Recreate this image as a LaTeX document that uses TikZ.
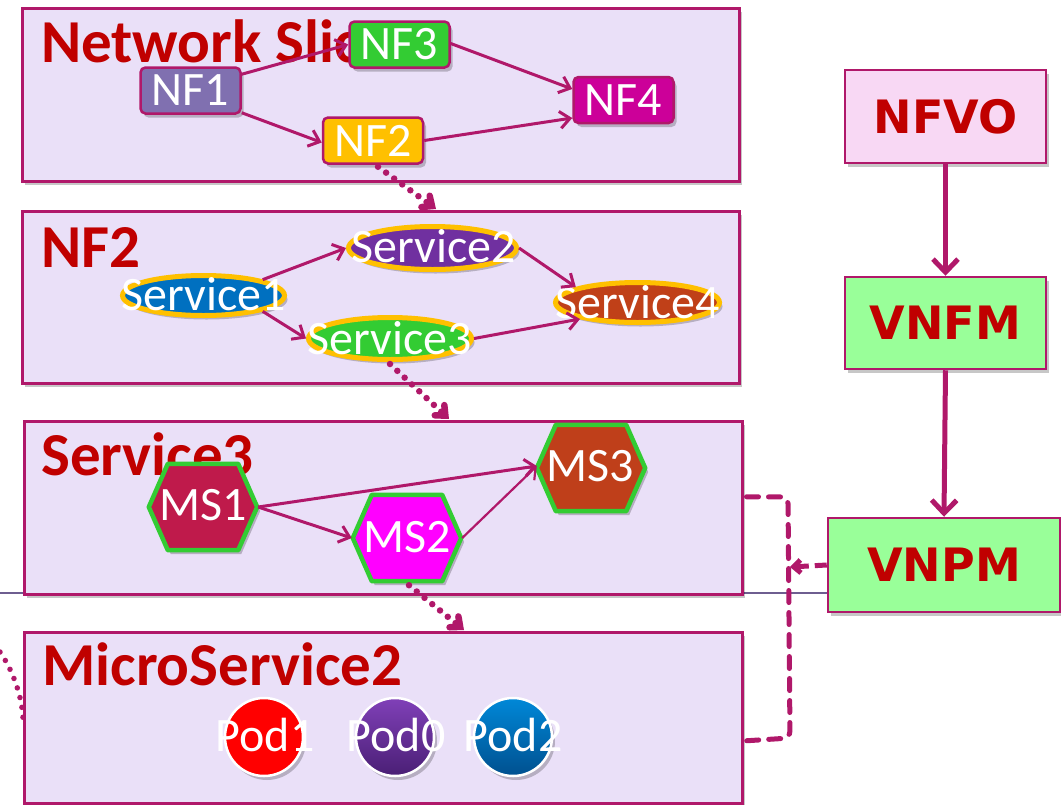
\documentclass[tikz,border=0pt]{standalone}
\usepackage{fontspec}
\setmainfont{Carlito}
\newfontfamily\dvsans{DejaVu Sans}
\usetikzlibrary{arrows.meta,shapes.geometric,shadows}
\definecolor{mag}{HTML}{B0186A}
\definecolor{panelfill}{HTML}{EAE0F8}
\definecolor{titlered}{HTML}{C00000}
\definecolor{nfa}{HTML}{8070B0}
\definecolor{nfb}{HTML}{FFC000}
\definecolor{nfc}{HTML}{33CC33}
\definecolor{nfd}{HTML}{CC0099}
\definecolor{sva}{HTML}{0070C0}
\definecolor{svb}{HTML}{7030A0}
\definecolor{svc}{HTML}{33CC33}
\definecolor{svd}{HTML}{C04018}
\definecolor{msa}{HTML}{BF1A4B}
\definecolor{msb}{HTML}{FF00FF}
\definecolor{msc}{HTML}{BF3F1A}
\definecolor{pinkfill}{HTML}{F8D8F4}
\definecolor{greenfill}{HTML}{99FF99}
\definecolor{thinline}{HTML}{6E5E90}
\definecolor{podpt}{HTML}{8040B8}
\definecolor{podpb}{HTML}{4A1F75}
\definecolor{podbt}{HTML}{0088D8}
\definecolor{podbb}{HTML}{00508F}
\begin{document}
\begin{tikzpicture}[x=1pt,y=-1pt,
  shad/.style={drop shadow={shadow xshift=3pt,shadow yshift=-4pt,fill=black,opacity=0.22}},
  panel/.style={draw=mag,line width=2.5,fill=panelfill,anchor=north west,inner sep=0,shad},
  ptitle/.style={text=titlered,font=\fontsize{61}{63}\selectfont\bfseries,anchor=base west,inner sep=0},
  wtxt/.style={text=white,font=\fontsize{48}{50}\selectfont,inner sep=0},
  nfbox/.style={draw=mag,line width=2.5,rounded corners=5pt,minimum width=100,minimum height=46,inner sep=0,text=white,font=\fontsize{48}{50}\selectfont,shad},
  svbox/.style={ellipse,draw=nfb,line width=5,inner sep=0,shad},
  hexbox/.style={minimum width=108,minimum height=86,inner sep=0},
  hexline/.style={draw=nfc,line width=4.5,line join=round,shad},
  podbox/.style={circle,draw=white,line width=2.5,minimum size=78,inner sep=0,shad},
  mgmt/.style={draw=mag,line width=2.5,inner sep=0,text=titlered,font=\dvsans\fontsize{46}{48}\selectfont\bfseries,shad},
  conn/.style={draw=mag,line width=3,-{Straight Barb[length=10pt,width=17pt]}},
  thinconn/.style={draw=mag,line width=2.2,-{Straight Barb[length=10pt,width=17pt]}},
  bigconn/.style={draw=mag,line width=5,-{Straight Barb[length=13pt,width=25pt]}},
  dotconn/.style={draw=mag,line width=6.5,line cap=round,dash pattern=on 0pt off 10pt,-{Straight Barb[length=8pt,width=14pt,line cap=round]}},
  dotline/.style={draw=mag,line width=5.5,line cap=round,dash pattern=on 0pt off 10pt},
  dashconn/.style={draw=mag,line width=5,line cap=round,dash pattern=on 12pt off 10pt,rounded corners=7pt}
]
\useasboundingbox (0,0) rectangle (1061,804);

% thin horizontal rule
\coordinate (hl0) at (0,593);
\coordinate (hl1) at (828,593);
\draw[thinline,line width=1.2] (hl0) -- (hl1);

% panels
\node[panel,minimum width=717,minimum height=173] (b1) at (21,7) {};
\node[panel,minimum width=717,minimum height=172] (b2) at (21,210) {};
\node[panel,minimum width=718,minimum height=173] (b3) at (23,420) {};
\node[panel,minimum width=718,minimum height=171] (b4) at (23,631) {};

% titles
\node[ptitle] (t1) at (41,62) {Network Slice};
\node[ptitle] (t2) at (41,267) {NF2};
\node[ptitle] (t3) at (41,475) {Service3};
\node[ptitle] (t4) at (42,685) {MicroService2};

% NF layer
\node[nfbox,fill=nfa] (nf1) at (190.5,90.5) {NF1};
\node[nfbox,fill=nfc] (nf3) at (399.5,44.5) {NF3};
\node[nfbox,fill=nfb] (nf2) at (373,140.5) {NF2};
\node[nfbox,fill=nfd] (nf4) at (623.5,100) {NF4};
\draw[conn] ([yshift=-8]nf1.north east) -- (nf3.west);
\draw[conn] ([yshift=2]nf1.south east) -- ([yshift=-2]nf2.west);
\draw[conn] ([yshift=1]nf3.east) -- ([yshift=11]nf4.west);
\draw[conn] (nf2.east) -- ([yshift=-18]nf4.west);

% Service layer
\node[svbox,fill=sva,minimum width=162,minimum height=40] (s1) at (203.5,295.5) {};
\node[svbox,fill=svb,minimum width=168,minimum height=43] (s2) at (432.5,248) {};
\node[svbox,fill=svc,minimum width=163,minimum height=42] (s3) at (390,338.5) {};
\node[svbox,fill=svd,minimum width=164,minimum height=40] (s4) at (637.5,302.5) {};
\node[wtxt] (s1t) at (204,294) {Service1};
\node[wtxt] (s2t) at (434,246) {Service2};
\node[wtxt] (s3t) at (390,338) {Service3};
\node[wtxt] (s4t) at (638,302) {Service4};
\draw[conn] (s1.15) -- (s2.west);
\draw[conn] (s1.-15) -- (s3.west);
\draw[conn] (s2.east) -- (s4.166);
\draw[conn] (s3.east) -- (s4.196);

% MicroService layer
\node[hexbox] (ms1) at (203,507) {};
\node[hexbox] (ms2) at (407,538) {};
\node[hexbox] (ms3) at (591,468) {};
\draw[hexline,fill=msa] (ms1.west) -- ([xshift=19]ms1.north west) -- ([xshift=-19]ms1.north east) -- (ms1.east) -- ([xshift=-19]ms1.south east) -- ([xshift=19]ms1.south west) -- cycle;
\draw[hexline,fill=msb] (ms2.west) -- ([xshift=19]ms2.north west) -- ([xshift=-19]ms2.north east) -- (ms2.east) -- ([xshift=-19]ms2.south east) -- ([xshift=19]ms2.south west) -- cycle;
\draw[hexline,fill=msc] (ms3.west) -- ([xshift=19]ms3.north west) -- ([xshift=-19]ms3.north east) -- (ms3.east) -- ([xshift=-19]ms3.south east) -- ([xshift=19]ms3.south west) -- cycle;
\node[wtxt] (ms1t) at (203,505) {MS1};
\node[wtxt] (ms2t) at (407,537) {MS2};
\node[wtxt] (ms3t) at (590,466) {MS3};
\draw[conn] ([xshift=1]ms1.east) -- ([yshift=2]ms3.west);
\draw[conn] ([xshift=1]ms1.east) -- ([xshift=-1]ms2.west);
\draw[thinconn] ([xshift=1]ms2.east) -- ([yshift=2]ms3.west);

% Pods
\node[podbox,fill=red] (p1) at (264,737) {};
\node[podbox,top color=podpt,bottom color=podpb] (p0) at (395,737) {};
\node[podbox,top color=podbt,bottom color=podbb] (p2) at (513,737) {};
\node[wtxt] (p1t) at (265,735) {Pod1};
\node[wtxt] (p0t) at (396,735) {Pod0};
\node[wtxt] (p2t) at (513,735) {Pod2};

% dotted drill-down arrows
\coordinate (d1) at (436,209);
\coordinate (d2) at (449,419);
\coordinate (d3) at (464,630);
\draw[dotconn] ([xshift=5,yshift=-2]nf2.south) -- (d1);
\draw[dotconn] ([yshift=-2]s3.south) -- (d2);
\draw[dotconn] ([xshift=2,yshift=-4]ms2.south) -- (d3);
\coordinate (lc) at (0,652);
\draw[dotline] (lc) .. controls (14,672) and (22,698) .. (b4.west);

% management boxes
\node[mgmt,fill=pinkfill,minimum width=201,minimum height=93] (nfvo) at (945.5,116.5) {NFVO};
\node[mgmt,fill=greenfill,minimum width=201,minimum height=92] (vnfm) at (945.5,323) {VNFM};
\node[mgmt,fill=greenfill,minimum width=232,minimum height=94] (vnpm) at (944,565) {VNPM};
\draw[bigconn] (nfvo.south) -- (vnfm.north);
\draw[bigconn] (vnfm.south) -- (vnpm.north);

% dashed management links
\coordinate (vj) at (790,567);
\coordinate (ca) at (788,497);
\coordinate (cb) at (790,738);
\draw[dashconn] ([xshift=3,yshift=11]b3.east) -- (ca) -- (cb) -- ([xshift=3,yshift=-23]b4.east);
\draw[draw=mag,line width=5,dash pattern=on 12pt off 6pt,-{Straight Barb[length=7pt,width=13pt]}] (vnpm.west) -- (vj);
\end{tikzpicture}
\end{document}
